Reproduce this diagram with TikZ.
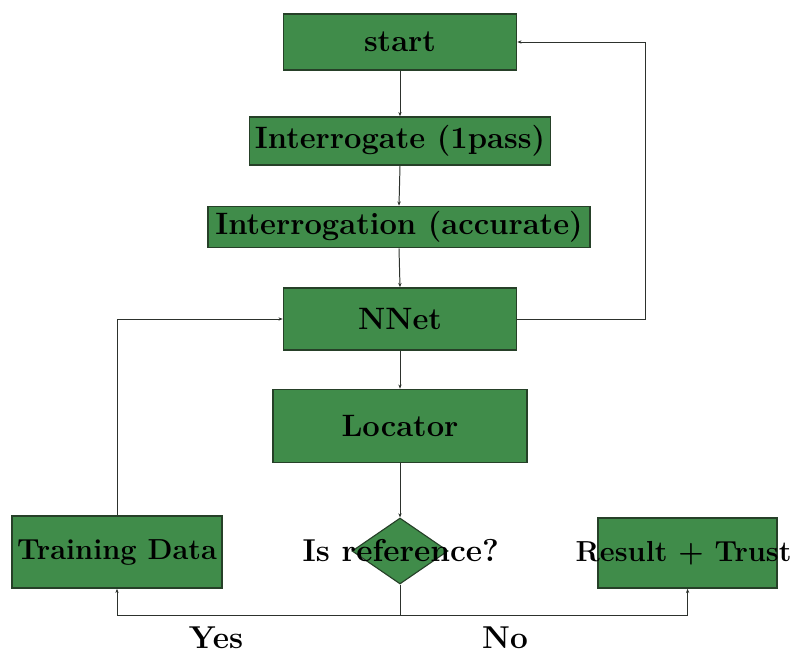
\documentclass[tikz,border=0pt]{standalone}
\usepackage{tikz}
\usetikzlibrary{arrows.meta,shapes.geometric,calc}
\usepackage{xcolor}
\definecolor{boxgreen}{RGB}{64,140,74}
\definecolor{boxedge}{RGB}{38,64,40}
\definecolor{wire}{RGB}{45,50,45}

\begin{document}
\begin{tikzpicture}[>={Stealth[length=3pt,width=2.4pt]},
    block/.style={draw=boxedge, line width=1.2pt, fill=boxgreen,
                  minimum width=#1, inner sep=0pt,
                  font=\fontsize{22}{24}\selectfont\bfseries},
    plain/.style={draw=boxedge, line width=1.2pt, fill=boxgreen,
                  inner sep=0pt},
    decide/.style={diamond, draw=boxedge, line width=0.8pt, fill=boxgreen,
                   minimum width=2.4cm, minimum height=1.65cm, inner sep=0pt},
    txt/.style={font=\fontsize{22.5}{24}\selectfont\bfseries},
    small/.style={font=\fontsize{20.6}{23}\selectfont\bfseries},
    wire/.style={draw=wire, line width=0.7pt}]

  \useasboundingbox (0,0) rectangle (19.85,16.325);

  %% Main chain
  \node[block=5.825cm, minimum height=1.4cm]   (start) at (10.0,15.275) {start};
  \node[block=7.525cm, minimum height=1.2cm]   (intr)  at (10.0,12.8)   {Interrogate (1pass)};
  \node[block=9.55cm,  minimum height=1.025cm] (acc)   at (9.975,10.65) {Interrogation (accurate)};
  \node[block=5.825cm, minimum height=1.55cm]  (nnet)  at (10.0,8.35)   {NNet};
  \node[block=6.35cm,  minimum height=1.825cm] (loc)   at (10.0,5.675)  {Locator};

  %% Decision and outcomes
  \node[decide, label={[txt, xshift=0.02cm]center:Is reference?}] (isref) at (10.0,2.55) {};
  \node[plain, minimum width=5.25cm, minimum height=1.8cm,
        label={[small]center:Training Data}] (train) at (2.925,2.525) {};
  \node[plain, minimum width=4.475cm, minimum height=1.75cm,
        label={[small, xshift=-0.1cm]center:Result + Trust}] (res) at (17.19,2.5) {};

  \coordinate (split) at (10.0,0.95);

  %% Arrows
  \draw[wire,->] (start.south) -- (intr.north);
  \draw[wire,->] (intr.south)  -- (acc.north);
  \draw[wire,->] (acc.south)   -- (nnet.north);
  \draw[wire,->] (nnet.south)  -- (loc.north);
  \draw[wire,->] (loc.south)   -- (isref.north);
  \draw[wire,->] (nnet.east) -- (16.125,8.35) |- (start.east);
  \draw[wire,->] (train.north) |- (nnet.west);
  \draw[wire] (isref.south) -- (split);
  \draw[wire,->] (split) -| (train.south);
  \draw[wire,->] (split) -| (res.south);

  %% Branch labels
  \node[txt] (yes) at (5.4,0.375) {Yes};
  \node[txt] (no)  at (12.625,0.375) {No};
\end{tikzpicture}
\end{document}
